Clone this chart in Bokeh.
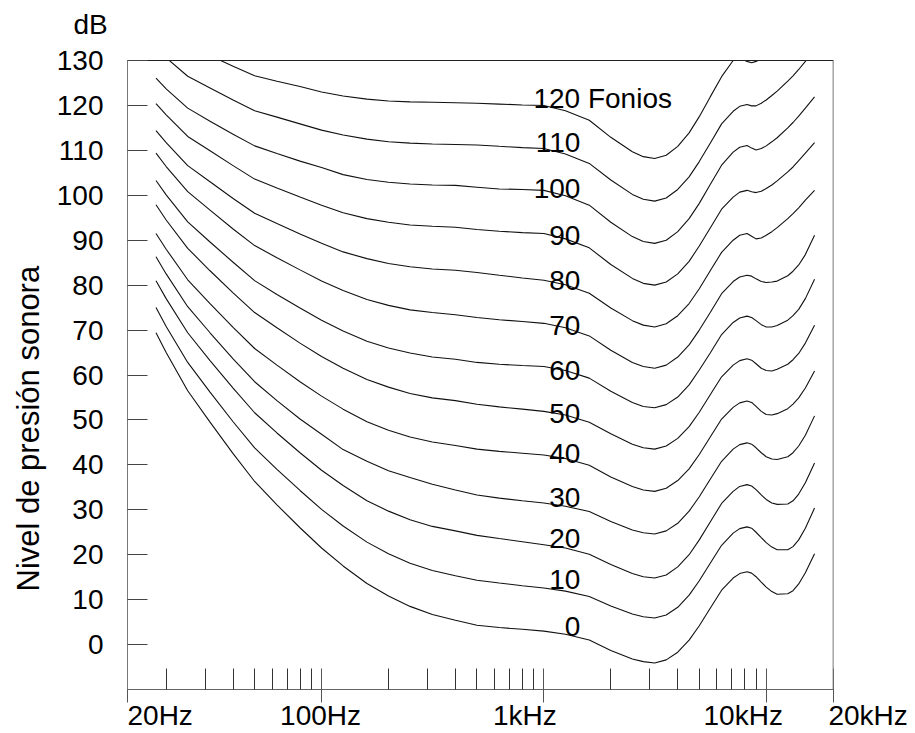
import math
from bokeh.plotting import figure
from bokeh.models import (FixedTicker, LogAxis, Span, Title, Label,
                          CustomJSTickFormatter, ColumnDataSource)
from bokeh.core.properties import value
from bokeh.embed import file_html
from bokeh.resources import INLINE

# ---------------- data ----------------
freq_hz = [18, 20, 25, 31.5, 40, 50, 63, 80, 100, 125, 160, 200, 250, 315, 400, 500,
           630, 800, 1000, 1250, 1600, 2000, 2500, 2800, 3150, 3550,
           4000, 4500, 5000, 5600, 6300, 7100, 7600, 8200, 8600, 9000, 9500, 10000,
           10600, 11200, 12500, 13200, 14000, 15000, 16500]

phon_120 = [139.3, 137.2, 133.5, 131.1, 128.7, 126.6, 125.4, 124.2, 123.0, 122.1, 121.4, 121.0, 120.8, 120.7, 120.6, 120.5,
            120.3, 120.1, 120.0, 118.8, 116.7, 112.9, 109.7, 108.6, 108.2, 108.9,
            110.9, 113.9, 117.5, 121.9, 126.4, 130.0, 130.6, 129.8, 129.5, 129.8, 130.4, 131.0,
            132.0, 133.0, 135.3, 136.5, 138.0, 139.8, 142.5]
phon_110 = [132.8, 130.6, 126.5, 123.9, 121.2, 118.8, 117.4, 115.9, 114.5, 113.4, 112.5, 111.9, 111.6, 111.4, 111.3, 111.2,
            110.9, 110.6, 110.4, 109.2, 107.1, 103.4, 100.2, 99.1, 98.7, 99.4,
            101.3, 104.1, 107.5, 111.6, 115.9, 118.7, 119.8, 120.2, 119.9, 119.9, 120.5, 121.2,
            122.2, 123.2, 125.4, 126.6, 128.0, 129.8, 132.5]
phon_100 = [126.1, 123.7, 119.4, 116.5, 113.6, 111.0, 109.3, 107.6, 106.2, 104.6, 103.5, 102.9, 102.5, 102.3, 102.2, 101.8,
            101.4, 101.3, 101.1, 99.9, 97.8, 94.0, 90.8, 89.7, 89.3, 90.0,
            91.9, 94.8, 98.2, 102.4, 106.7, 109.6, 110.7, 111.1, 110.5, 110.1, 110.4, 111.0,
            111.9, 112.8, 115.0, 116.2, 117.6, 119.4, 121.9]
phon_90 = [120.4, 117.9, 113.1, 109.9, 106.6, 103.6, 101.6, 99.6, 97.8, 96.1, 94.8, 94.0, 93.4, 93.1, 92.9, 92.4,
           92.0, 91.7, 91.5, 90.3, 88.3, 84.6, 81.5, 80.4, 80.0, 80.7,
           82.5, 85.3, 88.7, 92.7, 96.9, 99.6, 100.7, 101.1, 100.8, 100.6, 100.9, 101.5,
           102.3, 103.2, 105.2, 106.3, 107.7, 109.4, 111.7]
phon_80 = [114.4, 111.7, 106.6, 103.0, 99.3, 96.0, 93.7, 91.4, 89.3, 87.4, 85.9, 84.8, 84.1, 83.6, 83.3, 82.8,
           82.2, 81.6, 81.1, 80.1, 78.2, 74.9, 72.1, 71.1, 70.7, 71.4,
           73.2, 75.9, 79.2, 83.2, 87.3, 90.0, 91.1, 91.5, 90.9, 90.3, 90.5, 91.1,
           91.9, 92.8, 94.8, 95.9, 97.2, 98.9, 101.1]
phon_70 = [109.4, 106.4, 100.8, 96.7, 92.5, 88.8, 86.1, 83.4, 80.9, 78.8, 76.8, 75.5, 74.5, 73.9, 73.4, 72.8,
           72.3, 71.9, 71.5, 70.5, 68.7, 65.5, 62.8, 61.9, 61.5, 62.2,
           64.0, 66.7, 70.0, 73.9, 78.1, 80.8, 81.8, 82.2, 82.0, 81.4, 80.8, 80.6,
           80.7, 80.9, 82.1, 83.1, 84.5, 86.8, 91.1]
phon_60 = [103.3, 100.1, 94.1, 89.6, 85.1, 81.0, 77.9, 74.9, 72.2, 69.8, 67.5, 66.0, 64.9, 64.0, 63.5, 62.8,
           62.4, 62.1, 61.9, 61.0, 59.3, 56.4, 53.9, 53.0, 52.7, 53.4,
           55.1, 57.8, 61.1, 64.9, 69.0, 71.7, 72.7, 73.1, 72.8, 72.1, 71.2, 70.7,
           70.7, 71.0, 72.2, 73.2, 74.6, 77.0, 81.3]
phon_50 = [97.9, 94.5, 88.2, 83.2, 78.3, 73.9, 70.5, 67.1, 64.1, 61.5, 59.0, 57.3, 55.9, 54.9, 54.3, 53.5,
           52.9, 52.4, 51.9, 51.1, 49.5, 46.9, 44.6, 43.8, 43.5, 44.2,
           45.9, 48.5, 51.7, 55.6, 59.6, 62.2, 63.2, 63.6, 63.3, 62.5, 61.5, 61.0,
           60.9, 61.3, 62.4, 63.4, 64.8, 67.1, 71.1]
phon_40 = [91.5, 88.0, 81.2, 75.9, 70.6, 65.9, 62.2, 58.5, 55.3, 52.4, 49.6, 47.7, 46.2, 45.1, 44.3, 43.5,
           43.0, 42.6, 42.2, 41.4, 39.9, 37.3, 35.2, 34.4, 34.1, 34.8,
           36.5, 39.1, 42.3, 46.2, 50.2, 52.8, 53.8, 54.2, 53.9, 53.0, 51.9, 51.2,
           51.1, 51.4, 52.5, 53.5, 54.9, 57.1, 60.9]
phon_30 = [86.3, 82.5, 75.2, 69.4, 63.6, 58.5, 54.3, 50.2, 46.8, 43.4, 40.8, 38.7, 37.2, 35.7, 34.4, 33.3,
           32.6, 32.0, 31.5, 30.8, 29.6, 27.4, 25.5, 24.9, 24.6, 25.3,
           27.0, 29.7, 32.9, 36.8, 40.8, 43.5, 44.5, 44.9, 44.6, 43.8, 42.7, 41.8,
           41.3, 41.2, 41.8, 42.7, 44.2, 46.6, 50.9]
phon_20 = [81.0, 77.0, 69.4, 63.2, 57.1, 51.6, 47.1, 42.7, 38.8, 35.4, 32.0, 29.7, 27.8, 26.3, 25.3, 24.3,
           23.6, 22.9, 22.2, 21.5, 20.1, 17.8, 15.8, 15.1, 14.8, 15.5,
           17.3, 20.0, 23.3, 27.3, 31.4, 34.1, 35.2, 35.6, 35.3, 34.5, 33.3, 32.3,
           31.5, 31.2, 31.3, 32.0, 33.5, 36.0, 40.4]
phon_10 = [75.0, 70.8, 62.8, 56.2, 49.6, 43.8, 39.0, 34.3, 30.1, 26.4, 22.8, 20.2, 18.1, 16.5, 15.3, 14.3,
           13.7, 13.1, 12.6, 11.9, 10.7, 8.6, 6.8, 6.2, 5.9, 6.6,
           8.3, 11.0, 14.2, 18.1, 22.1, 24.8, 25.8, 26.2, 25.9, 25.0, 23.8, 22.7,
           21.7, 21.1, 21.1, 21.8, 23.3, 25.9, 30.4]
phon_0 = [69.4, 65.0, 56.5, 49.5, 42.5, 36.3, 31.1, 26.0, 21.5, 17.5, 13.6, 10.8, 8.5, 6.7, 5.4, 4.3,
          3.8, 3.4, 3.0, 2.3, 1.0, -1.3, -3.2, -3.8, -4.1, -3.4,
          -1.7, 1.0, 4.2, 8.1, 12.1, 14.8, 15.8, 16.2, 15.9, 15.1, 13.9, 12.8,
          11.8, 11.2, 11.3, 12.0, 13.5, 16.0, 20.2]

curves = [phon_120, phon_110, phon_100, phon_90, phon_80, phon_70, phon_60,
          phon_50, phon_40, phon_30, phon_20, phon_10, phon_0]

contour_labels = ["110", "100", "90", "80", "70", "60", "50", "40", "30", "20", "10", "0"]
contour_label_db = [111.7, 101.6, 91.1, 81.1, 71.0, 61.1, 51.5, 42.6, 32.8, 23.7, 14.4, 4.1]
contour_label_freq = 1460
top_label = "120 Fonios"
top_label_db = 121.6

y_ticks = [0, 10, 20, 30, 40, 50, 60, 70, 80, 90, 100, 110, 120, 130]
x_major_ticks = [100, 1000, 10000, 20000]
x_minor_ticks = [20, 30, 40, 50, 60, 70, 80, 90,
                 200, 300, 400, 500, 600, 700, 800, 900,
                 2000, 3000, 4000, 5000, 6000, 7000, 8000, 9000]
x_tick_labels = ["20Hz", "100Hz", "1kHz", "10kHz", "20kHz"]
x_tick_label_freqs = [20, 100, 1000, 10000, 20000]
unit_label = "dB"
y_title = "Nivel de presión sonora"

# ---------------- layout constants ----------------
W, H = 915, 733
BORDER_L, BORDER_R, BORDER_T, BORDER_B = 127, 3, 60, 43
X_MIN, X_MAX = 13.4, 45500      # frame is wider than the box so the last label fits
X_EDGE = 20000                  # right side of the chart box
Y_MIN, Y_MAX = -10, 130
FONT = "Liberation Sans"
FS = "28px"
PX_PER_DECADE = (W - BORDER_L - BORDER_R) / (math.log10(X_MAX) - math.log10(X_MIN))

p = figure(width=W, height=H, x_axis_type="log",
           x_range=(X_MIN, X_MAX), y_range=(Y_MIN, Y_MAX),
           output_backend="svg", toolbar_location=None, title=None,
           min_border_left=BORDER_L, min_border_right=BORDER_R,
           min_border_top=BORDER_T, min_border_bottom=BORDER_B)
p.background_fill_color = "white"
p.border_fill_color = "white"
p.outline_line_color = None
p.xgrid.visible = False
p.ygrid.visible = False

# curves
for c in curves:
    p.line(freq_hz, c, line_color="#111111", line_width=1.1)

# contour labels
src = ColumnDataSource(dict(x=[contour_label_freq] * len(contour_labels),
                            y=contour_label_db, t=contour_labels))
p.text(x="x", y="y", text="t", source=src, text_align="right",
       text_baseline="alphabetic", text_font=value(FONT),
       text_font_size=value(FS), text_color="black")
p.add_layout(Label(x=contour_label_freq, y=top_label_db, text=top_label,
                   x_offset=-47, text_align="left", text_baseline="alphabetic",
                   text_font=FONT, text_font_size=FS, text_color="black"))

# right side of the box
p.add_layout(Span(location=X_EDGE, dimension="height",
                  line_color="#777777", line_width=1))

# y axis
ya = p.yaxis[0]
ya.ticker = FixedTicker(ticks=y_ticks)
ya.major_tick_in = 20
ya.major_tick_out = 0
ya.minor_tick_line_color = None
ya.axis_line_color = "#777777"
ya.major_tick_line_color = "#444444"
ya.major_label_text_font = FONT
ya.major_label_text_font_size = FS
ya.major_label_text_color = "black"
ya.major_label_standoff = 24

# bottom tick axis (its own labels are not drawn)
xa = p.xaxis[0]
xa.ticker = FixedTicker(ticks=[X_MIN] + x_major_ticks, minor_ticks=x_minor_ticks)
xa.bounds = (X_MIN, X_EDGE)
xa.major_tick_in = 21
xa.major_tick_out = 13
xa.minor_tick_in = 21
xa.minor_tick_out = 0
xa.axis_line_color = "#666666"
xa.major_tick_line_color = "#555555"
xa.minor_tick_line_color = "#333333"
xa.major_label_text_color = None
xa.major_label_text_font_size = "1px"
xa.major_label_standoff = 0

# bottom label axis: labels placed as in the reference
x_label_offsets_px = [-6, -1, -19, -23, 35]
label_pos = [f * 10 ** (dx / PX_PER_DECADE) for f, dx in zip(x_tick_label_freqs, x_label_offsets_px)]
lab_axis = LogAxis(ticker=FixedTicker(ticks=label_pos),
                   formatter=CustomJSTickFormatter(args=dict(labels=x_tick_labels),
                                                   code="return labels[index]"),
                   axis_line_color=None, major_tick_line_color=None,
                   minor_tick_line_color=None, major_tick_in=0, major_tick_out=0,
                   major_label_standoff=-3, major_label_text_font=FONT,
                   major_label_text_font_size=FS, major_label_text_color="black")
p.add_layout(lab_axis, "below")

# top side of the box; its (invisible) tick gives room under the "dB" title
top_axis = LogAxis(ticker=FixedTicker(ticks=[X_MIN]), bounds=(X_MIN, X_EDGE),
                   axis_line_color="#222222", major_tick_line_color=None,
                   minor_tick_line_color=None, major_tick_in=0, major_tick_out=21,
                   major_label_text_color=None, major_label_text_font_size="1px",
                   major_label_standoff=0)
p.add_layout(top_axis, "above")
p.add_layout(Title(text=unit_label, align="left", offset=-54, vertical_align="bottom",
                   standoff=0, text_font=FONT, text_font_size=FS,
                   text_font_style="normal", text_color="black"), "above")

# y axis title
p.add_layout(Title(text=y_title, align="left", offset=98,
                   vertical_align="top", standoff=12, text_font=FONT,
                   text_font_size="31px", text_font_style="normal",
                   text_color="black"), "left")

open("out.html", "w").write(file_html(p, INLINE))
